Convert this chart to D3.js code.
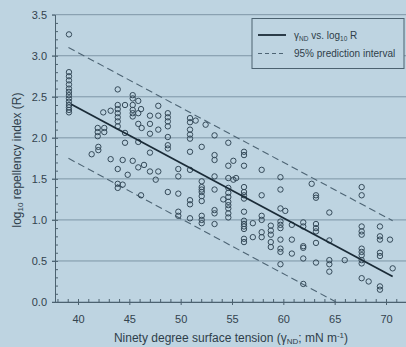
<!DOCTYPE html>
<html>
<head>
<meta charset="utf-8">
<script src="https://cdn.jsdelivr.net/npm/d3@7"></script>
<style>
  body { margin: 0; background: #bed4e1; }
  svg { display: block; font-family: "Liberation Sans", Arial, sans-serif; }
</style>
</head>
<body>
<div id="chart"></div>
<script>
// tick labels
const xTicks = [40, 45, 50, 55, 60, 65, 70];
const yTicks = [0, 0.5, 1.0, 1.5, 2.0, 2.5, 3.0, 3.5];

// samples: [surface tension, log10 R values measured at that tension]
const samples = [
  [39.12, [3.26, 2.80, 2.75, 2.70, 2.65, 2.60, 2.56, 2.52, 2.48, 2.44, 2.40, 2.37, 2.34, 2.31]],
  [41.33, [1.80]],
  [41.92, [2.12, 2.07, 2.02]],
  [41.98, [1.89, 1.85]],
  [42.46, [2.31]],
  [42.56, [2.12, 2.07]],
  [43.18, [2.33, 1.74]],
  [43.87, [2.59, 2.40, 2.35, 2.30, 2.25, 2.20, 2.14, 1.62, 1.44, 1.39]],
  [44.35, [1.73, 1.43]],
  [44.58, [2.40, 2.06, 1.94]],
  [44.84, [1.55]],
  [45.33, [2.52, 2.48, 2.40, 2.34, 2.30, 2.26, 1.72]],
  [45.87, [2.45, 2.30, 2.17, 1.95, 1.64]],
  [46.14, [2.35, 1.30]],
  [46.20, [2.12]],
  [46.43, [1.67]],
  [47.01, [2.27, 2.17, 2.05, 1.82, 1.59]],
  [47.57, [1.49]],
  [47.82, [2.39, 2.27, 2.10, 1.59]],
  [48.75, [2.30, 2.25, 2.20, 2.14, 2.01, 1.91, 1.87, 1.34]],
  [49.77, [1.62, 1.53, 1.32, 1.10, 1.05]],
  [50.91, [2.24, 2.19, 2.10, 2.04, 1.99, 1.83, 1.61, 1.24, 1.19, 1.02]],
  [51.46, [2.21]],
  [52.05, [1.89, 1.47, 1.40, 1.37, 1.34, 1.29, 1.23, 1.05, 1.00, 0.96]],
  [52.43, [2.16]],
  [53.30, [2.03, 1.79, 1.73, 1.53, 1.37, 1.12, 1.08, 0.95]],
  [54.15, [1.25]],
  [54.64, [1.94, 1.66, 1.51, 1.39, 1.33, 1.28, 1.22, 1.18, 1.14, 1.08, 1.03]],
  [55.13, [1.72, 1.49]],
  [55.40, [1.51]],
  [56.17, [1.83, 1.79, 1.66, 1.40, 1.34, 1.30, 1.26, 1.10, 0.99, 0.95, 0.92, 0.89, 0.77, 0.73]],
  [57.03, [0.96, 0.79]],
  [57.89, [1.61, 1.30, 1.05, 1.00, 0.85, 0.79]],
  [58.78, [0.93, 0.87, 0.82, 0.73, 0.67]],
  [59.72, [1.52, 1.37, 1.14, 0.98, 0.94, 0.90, 0.76, 0.65, 0.61, 0.46]],
  [60.19, [1.11]],
  [60.83, [0.94, 0.76, 0.59]],
  [61.94, [0.97, 0.92, 0.68, 0.66, 0.53, 0.22]],
  [62.76, [1.44]],
  [63.18, [1.30, 1.27, 0.95, 0.90, 0.86, 0.72, 0.48]],
  [64.48, [1.09, 0.75, 0.51, 0.46, 0.37]],
  [65.98, [0.51]],
  [67.63, [1.40, 1.30, 0.92, 0.86, 0.82, 0.65, 0.61, 0.57, 0.51, 0.47, 0.29]],
  [68.31, [0.25]],
  [69.41, [0.92, 0.80, 0.76, 0.60, 0.56, 0.19, 0.15]],
  [70.39, [0.76]],
  [70.65, [0.41]]
];

// regression line and 95% prediction interval (end points)
const fitX = [39.34, 70.65], fitY = [2.41, 0.31];
const upperX = [39.07, 70.65], upperY = [3.10, 0.99];
const lowerX = [39.07, 65.13], lowerY = [1.75, 0.00];

const width = 406, height = 347;
const bg = '#bed4e1';
const ink = '#2e3e4a';

const x = d3.scaleLinear().domain([40, 70]).range([78, 386]);
const y = d3.scaleLinear().domain([0, 3.5]).range([302, 14.7]);
const left = 55;

const svg = d3.select('#chart').append('svg')
  .attr('width', width)
  .attr('height', height);

svg.append('rect').attr('width', width).attr('height', height).attr('fill', bg);

// horizontal grid lines (major y ticks)
svg.append('g')
  .selectAll('line')
  .data(yTicks)
  .join('line')
  .attr('x1', left - 3)
  .attr('x2', width)
  .attr('y1', d => y(d))
  .attr('y2', d => y(d))
  .attr('stroke', '#7e96a6')
  .attr('stroke-width', 1);

// y axis
const yAxis = svg.append('g')
  .attr('transform', `translate(${left},0)`)
  .call(d3.axisLeft(y).tickValues(yTicks).tickSize(3).tickSizeOuter(0).tickPadding(5).tickFormat(d3.format('.1f')));
yAxis.selectAll('text').attr('font-size', 11).attr('fill', '#33434e').attr('font-family', '"Liberation Sans", Arial, sans-serif');

// y minor ticks (inside)
svg.append('g')
  .attr('transform', `translate(${left},0)`)
  .call(d3.axisRight(y).tickValues(d3.range(0, 3.5, 0.1)).tickSize(3).tickSizeOuter(0).tickFormat(''));

// x axis
const xAxis = svg.append('g')
  .attr('transform', `translate(0,${y(0)})`)
  .call(d3.axisBottom(x).tickValues(xTicks).tickSize(3).tickSizeOuter(0).tickPadding(10));
xAxis.select('.domain').attr('d', `M${left},0.5H${width}`);
xAxis.selectAll('text').attr('font-size', 11).attr('fill', '#33434e').attr('font-family', '"Liberation Sans", Arial, sans-serif');

// x minor ticks (inside)
const xMinor = svg.append('g')
  .attr('transform', `translate(0,${y(0)})`)
  .call(d3.axisTop(x).tickValues(d3.range(38, 73)).tickSize(3).tickSizeOuter(0).tickFormat(''));
xMinor.select('.domain').remove();

svg.selectAll('.domain, .tick line').attr('stroke', '#4c6270');

// prediction interval
const line = d3.line().x(d => x(d[0])).y(d => y(d[1]));
[[upperX, upperY], [lowerX, lowerY]].forEach(([xs, ys]) => {
  svg.append('path')
    .datum(d3.zip(xs, ys))
    .attr('d', line)
    .attr('fill', 'none')
    .attr('stroke', '#4d6474')
    .attr('stroke-width', 1.1)
    .attr('stroke-dasharray', '7,4');
});

// sample points
const points = samples.flatMap(([t, vals]) => vals.map(v => [t, v]));
svg.append('g')
  .selectAll('circle')
  .data(points)
  .join('circle')
  .attr('cx', d => x(d[0]))
  .attr('cy', d => y(d[1]))
  .attr('r', 2.7)
  .attr('fill', 'none')
  .attr('stroke', '#354a59')
  .attr('stroke-width', 1);

// regression line
svg.append('path')
  .datum(d3.zip(fitX, fitY))
  .attr('d', line)
  .attr('fill', 'none')
  .attr('stroke', '#1a2b37')
  .attr('stroke-width', 1.8);

// legend
const legend = svg.append('g');
legend.append('rect')
  .attr('x', 252).attr('y', 18.5)
  .attr('width', 152).attr('height', 50)
  .attr('fill', bg)
  .attr('stroke', '#4c6270')
  .attr('stroke-width', 1);

legend.append('line')
  .attr('x1', 258).attr('x2', 286).attr('y1', 35).attr('y2', 35)
  .attr('stroke', '#1a2b37').attr('stroke-width', 1.8);
legend.append('line')
  .attr('x1', 258).attr('x2', 286).attr('y1', 53.5).attr('y2', 53.5)
  .attr('stroke', '#4d6474').attr('stroke-width', 1.1).attr('stroke-dasharray', '4,3');

const t1 = legend.append('text').attr('x', 294).attr('y', 38.5)
  .attr('font-size', 10).attr('fill', ink);
t1.append('tspan').text('γ');
t1.append('tspan').attr('font-size', 6.5).attr('dy', 2).text('ND');
t1.append('tspan').attr('dy', -2).text(' vs. log');
t1.append('tspan').attr('font-size', 6.5).attr('dy', 2).text('10');
t1.append('tspan').attr('dy', -2).text(' R');

legend.append('text').attr('x', 294).attr('y', 57)
  .attr('font-size', 10).attr('fill', ink)
  .text('95% prediction interval');

// axis titles
const xt = svg.append('text')
  .attr('x', 231).attr('y', 342)
  .attr('text-anchor', 'middle')
  .attr('font-size', 12).attr('fill', ink);
xt.append('tspan').text('Ninety degree surface tension (γ');
xt.append('tspan').attr('font-size', 8).attr('dy', 2).text('ND');
xt.append('tspan').attr('dy', -2).text('; mN m');
xt.append('tspan').attr('font-size', 8).attr('dy', -4).text('-1');
xt.append('tspan').attr('dy', 4).text(')');

const yt = svg.append('text')
  .attr('transform', 'translate(21,160) rotate(-90)')
  .attr('text-anchor', 'middle')
  .attr('font-size', 12).attr('fill', ink);
yt.append('tspan').text('log');
yt.append('tspan').attr('font-size', 8).attr('dy', 2).text('10');
yt.append('tspan').attr('dy', -2).text(' repellency index (R)');
</script>
</body>
</html>
